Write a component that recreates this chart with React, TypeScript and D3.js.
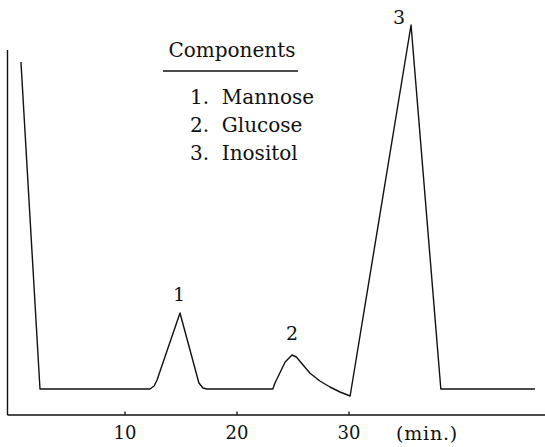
import React from "react";
import * as d3 from "d3";

const times = [0.71, 2.41, 12.23, 12.6, 12.86, 14.91, 16.6, 16.96, 17.3, 23.2, 23.39, 24.3, 24.91, 25.3, 25.9, 26.5, 27.4, 28.3, 29.2, 30.1, 35.54, 38.2, 46.6];
const signal = [88.25, 6.5, 6.5, 7.25, 8.75, 25.5, 8, 6.75, 6.5, 6.5, 8, 13.25, 15, 14.5, 12.5, 10.5, 8.5, 7, 5.75, 4.75, 97.5, 6.5, 6.5];
const tickValues = [10, 20, 30];
const peakTimes = [14.91, 24.91, 35.54];
const peakValues = [25.5, 15, 97.5];
const peakLabels = ["1", "2", "3"];
const legendTitle = "Components";
const legendItems = ["1.  Mannose", "2.  Glucose", "3.  Inositol"];
const axisUnit = "(min.)";

const W = 545;
const H = 447;

export default function App() {
  const x = d3.scaleLinear().domain([0, 47.5]).range([13, 545]);
  const y = d3.scaleLinear().domain([0, 100]).range([415, 15]);
  const pts = times.map((t, i) => [t, signal[i]] as [number, number]);
  const line = d3
    .line<[number, number]>()
    .x((d) => x(d[0]))
    .y((d) => y(d[1]))
    .curve(d3.curveLinear);
  const font = "'DejaVu Serif', 'Liberation Serif', serif";
  const peakOffsets = [
    [-1, -12],
    [0, -15],
    [-12, -1],
  ];
  return (
    <svg
      width={W}
      height={H}
      style={{ position: "absolute", left: 0, top: 0, background: "#fff" }}
      fontFamily={font}
    >
      {/* y axis */}
      <line x1={7.5} x2={7.5} y1={50} y2={415} stroke="#111" strokeWidth={1.4} />
      {/* x axis */}
      <line x1={7.5} x2={545} y1={415} y2={415} stroke="#111" strokeWidth={1.6} />
      {tickValues.map((t) => (
        <g key={t}>
          <line x1={x(t)} x2={x(t)} y1={415} y2={411.5} stroke="#111" strokeWidth={1.3} />
          <text x={x(t)} y={439} fontSize={18} textAnchor="middle" fill="#111">
            {t}
          </text>
        </g>
      ))}
      <text x={427} y={440} fontSize={19} textAnchor="middle" fill="#111" letterSpacing={0.8}>
        {axisUnit}
      </text>
      {/* chromatogram */}
      <path d={line(pts) || ""} fill="none" stroke="#111" strokeWidth={1.4} strokeLinejoin="round" />
      {peakLabels.map((lab, i) => (
        <text
          key={lab}
          x={x(peakTimes[i]) + peakOffsets[i][0]}
          y={y(peakValues[i]) + peakOffsets[i][1]}
          fontSize={19}
          textAnchor="middle"
          fill="#111"
        >
          {lab}
        </text>
      ))}
      {/* legend */}
      <text x={232} y={57} fontSize={20} textAnchor="middle" fill="#111">
        {legendTitle}
      </text>
      <line x1={163} x2={298} y1={71} y2={71} stroke="#111" strokeWidth={1.5} />
      {legendItems.map((item, i) => (
        <text key={item} x={190} y={104 + i * 28} fontSize={20} fill="#111" xmlSpace="preserve" style={{ whiteSpace: "pre" }}>
          {item}
        </text>
      ))}
    </svg>
  );
}
